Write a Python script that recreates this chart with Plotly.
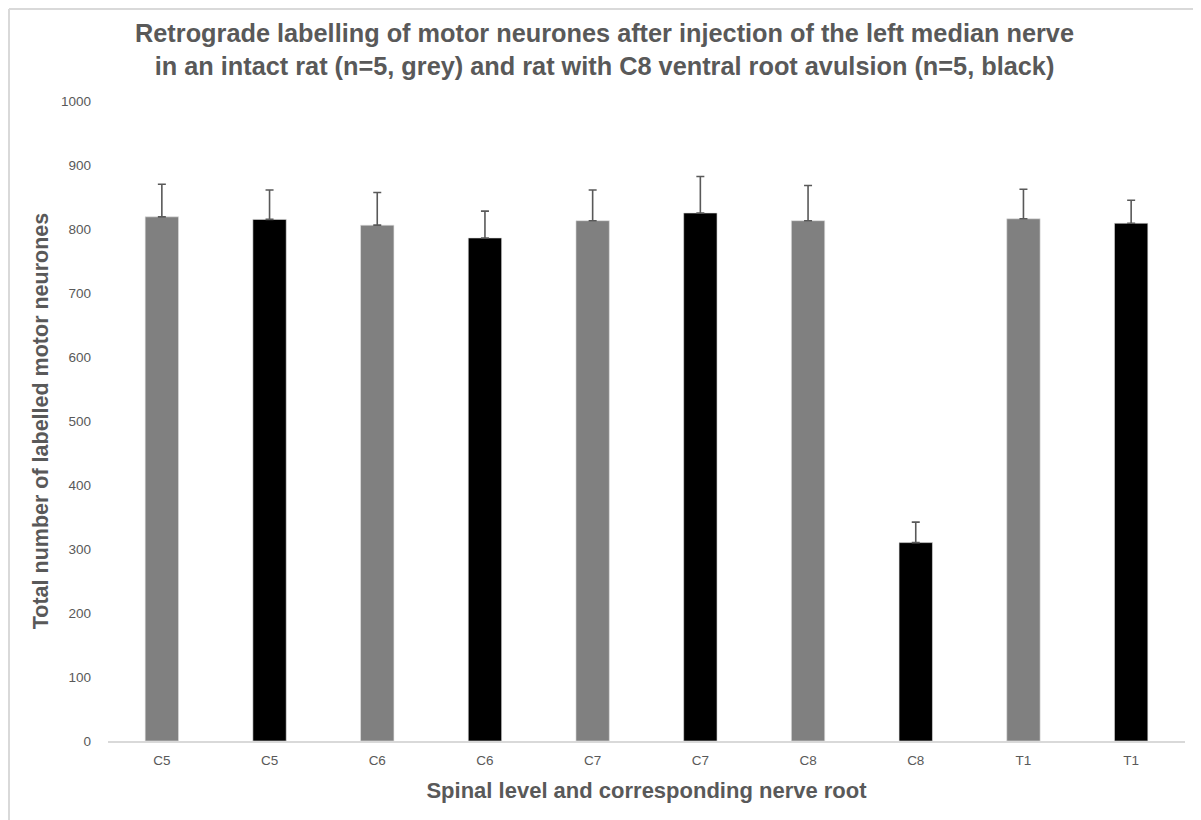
import plotly.graph_objects as go

levels = ["C5", "C5", "C6", "C6", "C7", "C7", "C8", "C8", "T1", "T1"]
groups = ["intact", "avulsion", "intact", "avulsion", "intact", "avulsion", "intact", "avulsion", "intact", "avulsion"]
counts = [819, 815, 806, 786, 813, 825, 813, 310, 816, 809]
sem = [51, 46, 51, 42, 48, 57, 55, 32, 46, 36]

bar_colors = {"intact": "#808080", "avulsion": "#000000"}
positions = list(range(len(levels)))

W, H = 1193, 812
L, R, T, B = 100, 16, 93, 79
pw, ph = W - L - R, H - T - B

fig = go.Figure()
fig.add_trace(go.Bar(
    x=positions,
    y=counts,
    width=0.31,
    marker=dict(color=[bar_colors[g] for g in groups], line=dict(color="#e0e0e0", width=0.6)),
    error_y=dict(type="data", array=sem, arrayminus=[0] * len(sem), symmetric=False,
                 color="#595959", thickness=1.6, width=4),
    showlegend=False,
))

fig.update_layout(
    width=W, height=H,
    margin=dict(l=L, r=R, t=T, b=B),
    paper_bgcolor="white", plot_bgcolor="white",
    font=dict(family="Liberation Sans, Arial, sans-serif", color="#595959"),
    title=dict(
        text="Retrograde labelling of motor neurones after injection of the left median nerve<br>in an intact rat (n=5, grey) and rat with C8 ventral root avulsion (n=5, black)",
        x=0.5, xanchor="center", y=1 - 34 / H, yanchor="middle",
        font=dict(size=25.3, color="#595959", family="Liberation Sans, Arial, sans-serif", weight="bold"),
    ),
    xaxis=dict(
        range=[-0.5, 9.5], tickvals=positions, ticktext=levels,
        showline=True, linecolor="#d9d9d9", linewidth=1.5, ticks="",
        showgrid=False, zeroline=False, ticklabelstandoff=6,
        tickfont=dict(size=13.5, color="#595959"),
        title=dict(text="Spinal level and corresponding nerve root", standoff=16,
                   font=dict(size=22, color="#595959", weight="bold")),
    ),
    yaxis=dict(
        range=[0, 1000], dtick=100, tick0=0, showgrid=False, zeroline=False,
        showline=False, ticks="", ticklabelstandoff=16,
        tickfont=dict(size=13.5, color="#595959"),
        title=dict(text="Total number of labelled motor neurones", standoff=6,
                   font=dict(size=21.5, color="#595959", weight="bold")),
    ),
    shapes=[
        dict(type="line", xref="paper", yref="paper",
             x0=-(L - 1) / pw, x1=(pw + R) / pw, y0=1 + (T - 1) / ph, y1=1 + (T - 1) / ph,
             line=dict(color="#d9d9d9", width=2)),
        dict(type="line", xref="paper", yref="paper",
             x0=-(L - 1) / pw, x1=-(L - 1) / pw, y0=1 + (T - 1) / ph, y1=-B / ph,
             line=dict(color="#d9d9d9", width=2)),
    ],
)

fig.write_html("out.html")
